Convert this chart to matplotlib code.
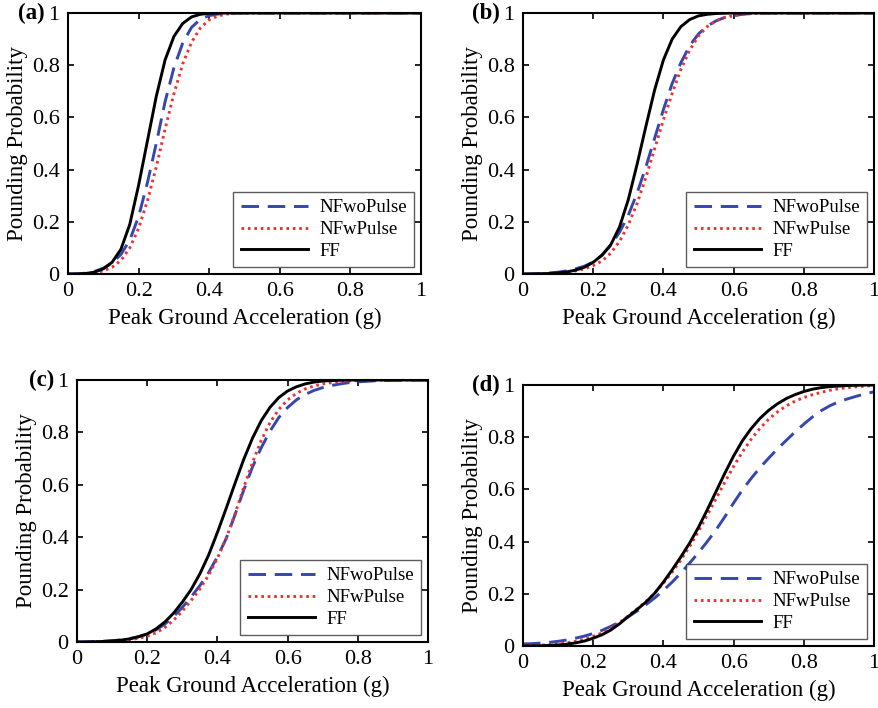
import numpy as np
import matplotlib
matplotlib.use("Agg")
import matplotlib.pyplot as plt

plt.rcParams['font.family'] = ['Liberation Serif', 'DejaVu Serif']

# Peak ground acceleration grid (g)
pga = [0.000, 0.025, 0.050, 0.075, 0.100, 0.125, 0.150, 0.175, 0.200, 0.225,
       0.250, 0.275, 0.300, 0.325, 0.350, 0.375, 0.400, 0.425, 0.450, 0.475,
       0.500, 0.525, 0.550, 0.575, 0.600, 0.625, 0.650, 0.675, 0.700, 0.725,
       0.750, 0.775, 0.800, 0.825, 0.850, 0.875, 0.900, 0.925, 0.950, 0.975,
       1.000]

# (a)
a_nfwo = [0.000, 0.001, 0.003, 0.010, 0.022, 0.042, 0.075, 0.130, 0.220, 0.350,
          0.500, 0.660, 0.790, 0.885, 0.945, 0.976, 0.990, 0.996, 0.999, 1.000,
          1.000, 1.000, 1.000, 1.000, 1.000, 1.000, 1.000, 1.000, 1.000, 1.000,
          1.000, 1.000, 1.000, 1.000, 1.000, 1.000, 1.000, 1.000, 1.000, 1.000,
          1.000]
a_nfw = [0.000, 0.000, 0.001, 0.004, 0.012, 0.026, 0.052, 0.100, 0.175, 0.280,
         0.410, 0.555, 0.690, 0.805, 0.888, 0.943, 0.974, 0.989, 0.996, 0.999,
         1.000, 1.000, 1.000, 1.000, 1.000, 1.000, 1.000, 1.000, 1.000, 1.000,
         1.000, 1.000, 1.000, 1.000, 1.000, 1.000, 1.000, 1.000, 1.000, 1.000,
         1.000]
a_ff = [0.000, 0.000, 0.002, 0.007, 0.020, 0.045, 0.095, 0.190, 0.340, 0.510,
        0.680, 0.820, 0.910, 0.960, 0.985, 0.995, 0.999, 1.000, 1.000, 1.000,
        1.000, 1.000, 1.000, 1.000, 1.000, 1.000, 1.000, 1.000, 1.000, 1.000,
        1.000, 1.000, 1.000, 1.000, 1.000, 1.000, 1.000, 1.000, 1.000, 1.000,
        1.000]

# (b)
b_nfwo = [0.000, 0.001, 0.002, 0.004, 0.007, 0.012, 0.020, 0.030, 0.046, 0.072,
          0.110, 0.160, 0.225, 0.310, 0.410, 0.520, 0.630, 0.730, 0.810, 0.875,
          0.920, 0.950, 0.970, 0.983, 0.990, 0.995, 0.998, 0.999, 1.000, 1.000,
          1.000, 1.000, 1.000, 1.000, 1.000, 1.000, 1.000, 1.000, 1.000, 1.000,
          1.000]
b_nfw = [0.000, 0.000, 0.001, 0.002, 0.004, 0.007, 0.012, 0.020, 0.032, 0.050,
         0.080, 0.125, 0.188, 0.270, 0.370, 0.480, 0.590, 0.692, 0.785, 0.858,
         0.912, 0.948, 0.970, 0.983, 0.990, 0.995, 0.998, 0.999, 1.000, 1.000,
         1.000, 1.000, 1.000, 1.000, 1.000, 1.000, 1.000, 1.000, 1.000, 1.000,
         1.000]
b_ff = [0.000, 0.000, 0.001, 0.002, 0.004, 0.008, 0.015, 0.026, 0.045, 0.072,
        0.112, 0.180, 0.285, 0.420, 0.565, 0.705, 0.820, 0.900, 0.948, 0.975,
        0.989, 0.995, 0.998, 0.999, 1.000, 1.000, 1.000, 1.000, 1.000, 1.000,
        1.000, 1.000, 1.000, 1.000, 1.000, 1.000, 1.000, 1.000, 1.000, 1.000,
        1.000]

# (c)
c_nfwo = [0.000, 0.001, 0.002, 0.003, 0.005, 0.008, 0.013, 0.020, 0.030, 0.046,
          0.068, 0.097, 0.132, 0.172, 0.215, 0.265, 0.325, 0.395, 0.485, 0.580,
          0.668, 0.742, 0.805, 0.857, 0.895, 0.924, 0.945, 0.960, 0.971, 0.979,
          0.985, 0.990, 0.993, 0.995, 0.997, 0.998, 0.999, 0.999, 1.000, 1.000,
          1.000]
c_nfw = [0.000, 0.000, 0.001, 0.002, 0.003, 0.005, 0.009, 0.014, 0.022, 0.035,
         0.055, 0.083, 0.118, 0.158, 0.202, 0.255, 0.320, 0.395, 0.488, 0.590,
         0.685, 0.770, 0.838, 0.888, 0.924, 0.949, 0.966, 0.977, 0.985, 0.990,
         0.994, 0.996, 0.998, 0.999, 1.000, 1.000, 1.000, 1.000, 1.000, 1.000,
         1.000]
c_ff = [0.000, 0.000, 0.001, 0.002, 0.004, 0.007, 0.012, 0.020, 0.031, 0.050,
        0.076, 0.110, 0.152, 0.200, 0.260, 0.332, 0.418, 0.510, 0.605, 0.697,
        0.778, 0.845, 0.896, 0.933, 0.958, 0.974, 0.985, 0.992, 0.996, 0.998,
        0.999, 1.000, 1.000, 1.000, 1.000, 1.000, 1.000, 1.000, 1.000, 1.000,
        1.000]

# (d)
d_nfwo = [0.008, 0.009, 0.011, 0.014, 0.018, 0.023, 0.030, 0.038, 0.048, 0.060,
          0.075, 0.092, 0.112, 0.134, 0.158, 0.184, 0.213, 0.245, 0.280, 0.318,
          0.358, 0.400, 0.445, 0.495, 0.548, 0.598, 0.642, 0.683, 0.720, 0.755,
          0.788, 0.820, 0.850, 0.878, 0.902, 0.921, 0.936, 0.947, 0.957, 0.966,
          0.974]
d_nfw = [0.002, 0.002, 0.003, 0.005, 0.008, 0.012, 0.018, 0.026, 0.037, 0.050,
         0.067, 0.090, 0.115, 0.142, 0.170, 0.202, 0.240, 0.283, 0.330, 0.382,
         0.440, 0.502, 0.565, 0.628, 0.688, 0.743, 0.792, 0.834, 0.869, 0.897,
         0.920, 0.938, 0.952, 0.963, 0.972, 0.980, 0.986, 0.990, 0.993, 0.996,
         0.998]
d_ff = [0.000, 0.000, 0.001, 0.002, 0.004, 0.007, 0.012, 0.019, 0.030, 0.043,
        0.061, 0.085, 0.113, 0.140, 0.168, 0.202, 0.245, 0.292, 0.342, 0.395,
        0.455, 0.522, 0.592, 0.662, 0.728, 0.786, 0.833, 0.872, 0.903, 0.928,
        0.948, 0.963, 0.975, 0.984, 0.990, 0.994, 0.996, 0.998, 0.999, 1.000,
        1.000]

panel_labels = ['(a)', '(b)', '(c)', '(d)']
series_names = ['NFwoPulse', 'NFwPulse', 'FF']
panels = [(a_nfwo, a_nfw, a_ff), (b_nfwo, b_nfw, b_ff),
          (c_nfwo, c_nfw, c_ff), (d_nfwo, d_nfw, d_ff)]
ticks = [0, 0.2, 0.4, 0.6, 0.8, 1]
tick_text = ['0', '0.2', '0.4', '0.6', '0.8', '1']

W, H = 879, 708
fig = plt.figure(figsize=(W / 100, H / 100), dpi=100)

# axes boxes in pixels: left, top, right, bottom
boxes = [(68, 13, 421, 274), (523, 13, 874, 274),
         (77, 380, 428, 642), (523, 385, 874, 646)]

blue = '#3447b0'
red = '#ee3030'

for (l, t, r, b), lab, (nfwo, nfw, ff) in zip(boxes, panel_labels, panels):
    ax = fig.add_axes([l / W, 1 - b / H, (r - l) / W, (b - t) / H])
    ax.plot(pga, nfwo, color=blue, lw=2.1, dashes=(6, 3), label=series_names[0])
    ax.plot(pga, nfw, color=red, lw=2.1, dashes=(0.9, 1.3), label=series_names[1])
    ax.plot(pga, ff, color='black', lw=2.1, label=series_names[2])
    ax.set_xlim(0, 1)
    ax.set_ylim(0, 1)
    ax.set_xticks(ticks)
    ax.set_yticks(ticks)
    ax.set_xticklabels(tick_text)
    ax.set_yticklabels(tick_text)
    ax.tick_params(direction='in', top=True, right=True, length=4, width=1.2,
                   labelsize=16, pad=6)
    for s in ax.spines.values():
        s.set_linewidth(1.5)
    ax.set_xlabel('Peak Ground Acceleration (g)', fontsize=16.5, labelpad=5)
    ax.set_ylabel('Pounding Probability', fontsize=16.5, labelpad=3)
    ax.text(-0.065, 1.0, lab, transform=ax.transAxes, fontsize=16.5,
            fontweight='bold', ha='right', va='center')
    leg = ax.legend(loc='lower right', fontsize=13.5, handlelength=3.6,
                    frameon=True, fancybox=False, edgecolor='#333333',
                    borderaxespad=0.35, labelspacing=0.25, handletextpad=0.6,
                    borderpad=0.4)
    leg.get_frame().set_linewidth(1.0)

fig.savefig('out.png', dpi=100)
